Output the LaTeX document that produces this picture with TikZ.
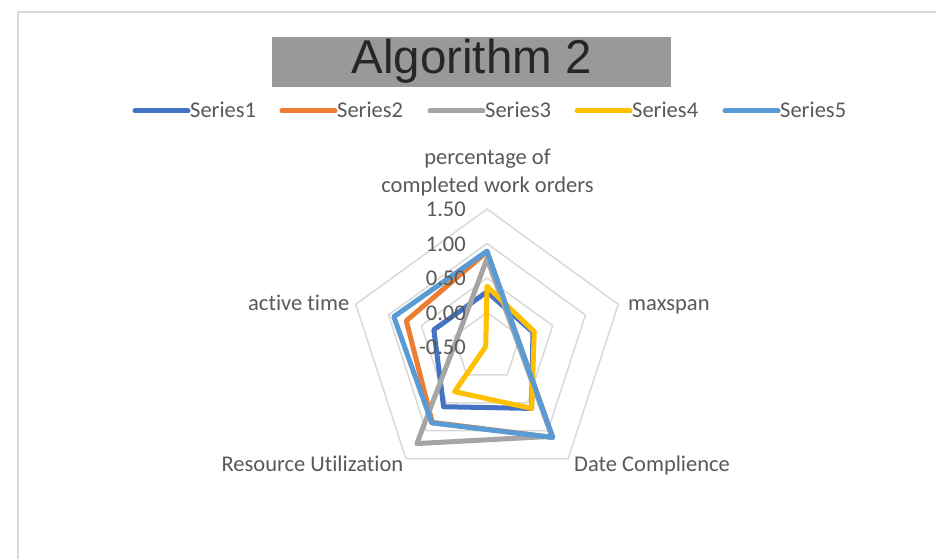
\documentclass[tikz,border=0pt]{standalone}
\usepackage{fontspec}
\setmainfont{Carlito}[Ligatures=NoCommon]
\newfontfamily\titlefont{Liberation Sans}
\usetikzlibrary{calc}
\definecolor{sA}{HTML}{4472C4}
\definecolor{sB}{HTML}{ED7D31}
\definecolor{sC}{HTML}{A5A5A5}
\definecolor{sD}{HTML}{FFC000}
\definecolor{sE}{HTML}{5B9BD5}
\definecolor{gridc}{HTML}{D9D9D9}
\definecolor{txt}{HTML}{595959}
\definecolor{titlegray}{HTML}{999999}
\definecolor{titletext}{HTML}{262626}
\newcommand\radarpoly[6]{\draw[ser,#1,shift={(c)}] (90:{(#2+0.5)*69}) -- (18:{(#3+0.5)*69}) -- (-54:{(#4+0.5)*69}) -- (-126:{(#5+0.5)*69}) -- (162:{(#6+0.5)*69}) -- cycle;}
\begin{document}
\begin{tikzpicture}[x=1pt,y=1pt,
  gridline/.style={draw=gridc, line width=1.5pt, line join=miter},
  ser/.style={line width=5pt, line join=round},
  lbl/.style={text=txt, font=\fontsize{22.5}{26}\selectfont, inner sep=0pt},
  legline/.style={line width=5pt, line cap=round}]
\useasboundingbox (0,0) rectangle (936,558);
\fill[white] (0,0) rectangle (936,558);
% chart frame
\draw[draw=gridc, line width=1.5pt] (18,-10) -- (18,546) -- (950,546);
% title
\node[fill=titlegray, minimum width=399pt, minimum height=50pt, inner sep=0pt, anchor=south west] (titlebox) at (272,471) {};
\node[anchor=base, inner sep=0pt, text=titletext, font=\titlefont\fontsize{47.5}{50}\selectfont] (title) at (471.5,484) {Algorithm 2};
% legend
\coordinate (l1a) at (135,447); \coordinate (l1b) at (188,447);
\coordinate (l2a) at (282,447); \coordinate (l2b) at (335,447);
\coordinate (l3a) at (430,447); \coordinate (l3b) at (483,447);
\coordinate (l4a) at (577,447); \coordinate (l4b) at (630,447);
\coordinate (l5a) at (725,447); \coordinate (l5b) at (778,447);
\draw[legline, sA] (l1a) -- (l1b);
\draw[legline, sB] (l2a) -- (l2b);
\draw[legline, sC] (l3a) -- (l3b);
\draw[legline, sD] (l4a) -- (l4b);
\draw[legline, sE] (l5a) -- (l5b);
\node[lbl, anchor=base west] (t1) at (190,440) {Series1};
\node[lbl, anchor=base west] (t2) at (337,440) {Series2};
\node[lbl, anchor=base west] (t3) at (485,440) {Series3};
\node[lbl, anchor=base west] (t4) at (632,440) {Series4};
\node[lbl, anchor=base west] (t5) at (780,440) {Series5};
% radar grid
\coordinate (c) at (487,211);
\foreach \v in {0,0.5,1,1.5}
  \draw[gridline, shift={(c)}] (90:{(\v+0.5)*69}) -- (18:{(\v+0.5)*69}) -- (-54:{(\v+0.5)*69}) -- (-126:{(\v+0.5)*69}) -- (162:{(\v+0.5)*69}) -- cycle;
% category labels
\node[lbl, anchor=base] (cat1a) at (487.5,393) {percentage of};
\node[lbl, anchor=base] (cat1b) at (487.5,366) {completed work orders};
\node[lbl, anchor=base west] (cat2) at (628,248) {maxspan};
\node[lbl, anchor=base west] (cat3) at (574,87) {Date Complience};
\node[lbl, anchor=base east] (cat4) at (403.5,87) {Resource Utilization};
\node[lbl, anchor=base east] (cat5) at (349.5,248) {active time};
% series
\radarpoly{sA}{0.30}{0.20}{0.60}{0.57}{0.31}
\radarpoly{sB}{0.88}{-0.04}{1.12}{0.85}{0.73}
\radarpoly{sC}{0.78}{-0.06}{1.10}{1.23}{-0.05}
\radarpoly{sD}{0.38}{0.22}{0.60}{0.30}{-0.48}
\radarpoly{sE}{0.89}{-0.04}{1.12}{0.86}{0.92}
% value axis labels
\node[lbl, anchor=base east] (v1) at (466,341.5) {1.50};
\node[lbl, anchor=base east] (v2) at (466,307) {1.00};
\node[lbl, anchor=base east] (v3) at (466,272.5) {0.50};
\node[lbl, anchor=base east] (v4) at (466,238) {0.00};
\node[lbl, anchor=base east] (v5) at (466,203.5) {-0.50};
\end{tikzpicture}
\end{document}
